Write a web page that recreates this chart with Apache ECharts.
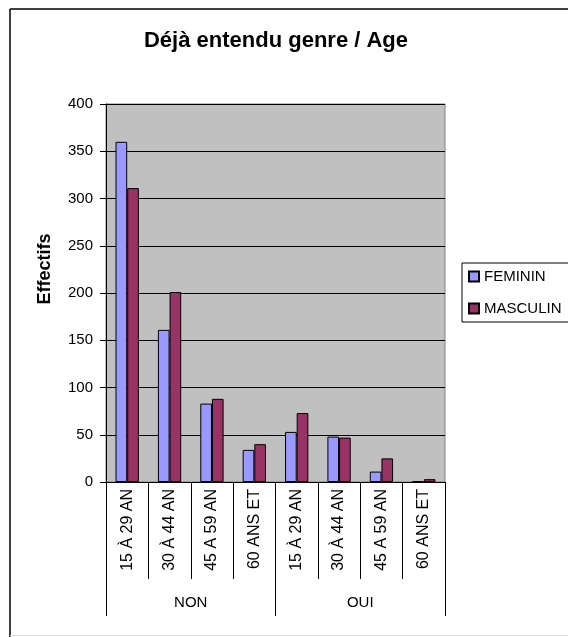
<!DOCTYPE html>
<html>
<head>
<meta charset="utf-8">
<script src="https://cdn.jsdelivr.net/npm/echarts@6/dist/echarts.min.js"></script>
<style>html,body{margin:0;padding:0;background:#fff}#c{width:568px;height:637px}</style>
</head>
<body>
<div id="c"></div>
<script>
var categories = ['15 À 29 AN','30 À 44 AN','45 A 59 AN','60 ANS ET','15 À 29 AN','30 À 44 AN','45 A 59 AN','60 ANS ET'];
var groups = ['NON','OUI'];
var feminin = [360,161,83,34,53,48,11,1];
var masculin = [311,201,88,40,73,47,25,3];
var yTicks = {min:0,max:400,interval:50};

var FONT = 'Liberation Sans, Arial, sans-serif';
var chart = echarts.init(document.getElementById('c'));
chart.setOption({
  animation:false,
  backgroundColor:'#fff',
  title:{text:'Déjà entendu genre / Age',left:271,textAlign:'center',top:25,
    textStyle:{fontFamily:FONT,fontSize:22,fontWeight:'bold',color:'#000'}},
  graphic:[
    {type:'line',shape:{x1:10,y1:9,x2:10,y2:637},style:{stroke:'#000',lineWidth:1.5}},
    {type:'line',shape:{x1:10,y1:9,x2:568,y2:9},style:{stroke:'#000',lineWidth:1.5}},
    {type:'line',shape:{x1:10,y1:635.5,x2:568,y2:635.5},style:{stroke:'#ddd',lineWidth:1}},
    {type:'text',x:45,y:269,rotation:Math.PI/2,
      style:{text:'Effectifs',fontFamily:FONT,fontSize:18,fontWeight:'bold',fill:'#000',
        align:'center',verticalAlign:'middle'}}
  ],
  legend:{orient:'vertical',left:462,top:263,padding:[6,8,6,6],itemGap:17,
    itemWidth:10,itemHeight:10,icon:'rect',borderColor:'#000',borderWidth:1,
    textStyle:{fontFamily:FONT,fontSize:15,color:'#000',padding:[0,0,0,0]},
    data:['FEMININ','MASCULIN']},
  grid:{left:106,top:104,right:123,bottom:155,show:true,backgroundColor:'#C0C0C0',
    borderColor:'#808080',borderWidth:1},
  xAxis:[
    {type:'category',data:categories,position:'bottom',
      axisLine:{show:true,lineStyle:{color:'#000'}},
      axisTick:{show:true,length:97,lineStyle:{color:'#000'}},
      axisLabel:{rotate:90,margin:7,interval:0,fontFamily:FONT,fontSize:16,color:'#000'}},
    {type:'category',data:groups,position:'bottom',
      axisLine:{show:false},
      axisTick:{show:true,length:134,lineStyle:{color:'#000'}},
      axisLabel:{margin:113,interval:0,fontFamily:FONT,fontSize:15,color:'#000'}}
  ],
  yAxis:{type:'value',min:yTicks.min,max:yTicks.max,interval:yTicks.interval,
    axisLine:{show:true,lineStyle:{color:'#000'}},
    axisTick:{show:true,length:6,lineStyle:{color:'#000'}},
    axisLabel:{margin:13,fontFamily:FONT,fontSize:15,color:'#000'},
    splitLine:{show:true,lineStyle:{color:'#000',width:1}}},
  series:[
    {name:'FEMININ',type:'bar',data:feminin,xAxisIndex:0,barGap:'0%',barCategoryGap:'45%',
      itemStyle:{color:'#9999FF',borderColor:'#000',borderWidth:1}},
    {name:'MASCULIN',type:'bar',data:masculin,xAxisIndex:0,barGap:'0%',barCategoryGap:'45%',
      itemStyle:{color:'#993366',borderColor:'#000',borderWidth:1}}
  ]
});
</script>
</body>
</html>
